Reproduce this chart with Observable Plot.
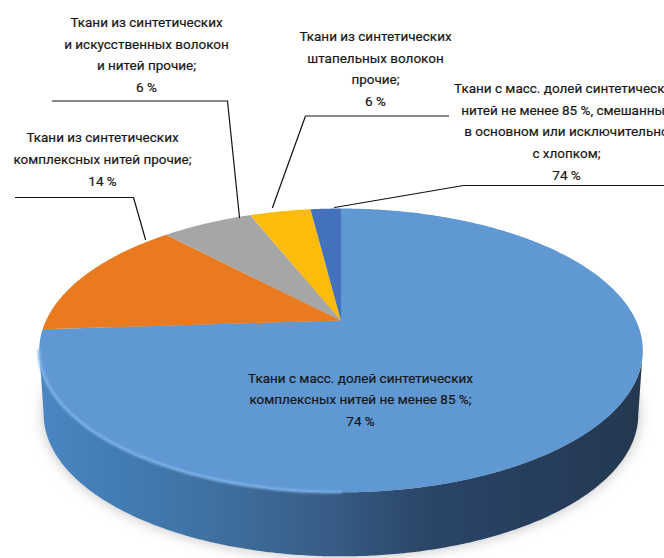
<!DOCTYPE html>
<html lang="ru">
<head>
<meta charset="utf-8">
<script src="https://cdn.jsdelivr.net/npm/d3@7"></script>
<script src="https://cdn.jsdelivr.net/npm/@observablehq/plot@0.6"></script>
<style>
  html, body { margin: 0; padding: 0; background: #fff; }
  svg { display: block; }
</style>
</head>
<body>
<div id="chart"></div>
<script>
// Slice sizes clockwise from twelve o'clock, in percent of the whole.
const sliceNames = ["Синт. комплексные ≥85 %", "Синт. комплексные прочие", "Синт. и иск. прочие", "Штапельные прочие", "Смешанные с хлопком"];
const sliceShares = [74, 14, 6, 4, 2];
const sliceColors = ["#6098d3", "#ea7a1f", "#a6a6a6", "#fdbb0c", "#4471bb"];

// Printed captions; the two smallest slices carry captions of 6 % and 74 %
// even though their sizes above are 4 % and 2 %.
const labelTexts = [
  "Ткани с масс. долей синтетических\nкомплексных нитей не менее 85 %;\n74 %",
  "Ткани из синтетических\nкомплексных нитей прочие;\n14 %",
  "Ткани из синтетических\nи искусственных волокон\nи нитей прочие;\n6 %",
  "Ткани из синтетических\nштапельных волокон\nпрочие;\n6 %",
  "Ткани с масс. долей синтетических\nнитей не менее 85 %, смешанных\nв основном или исключительно\nс хлопком;\n74 %"
];
const labelX = [360, 102, 146, 375, 566];
const labelY = [397, 156.5, 52, 66, 129];

// Leader polylines, one list per captioned outer slice.
const leaders = [
  [[15, 197], [133, 197], [145, 239]],
  [[52, 100.5], [227, 100.5], [239, 217]],
  [[272, 207], [305, 115.5], [448, 115.5]],
  [[334, 207], [463, 185], [664, 185]]
];

// Tilted disc: a circle seen in perspective, apex of the slices at (cx, cy).
const cx = 340.5, cy = 320, spanX = 295, spanY = 135.6, tilt = 0.211;
const depth = 64, baseShrink = 0.985;
const project = (deg) => {
  const a = deg * Math.PI / 180;
  const X = Math.sin(a), Y = -Math.cos(a), f = 1 / (1 - tilt * Y);
  return [cx + spanX * X * f, cy + spanY * Y * f];
};
const toBase = ([x, y]) => [cx + (x - cx) * baseShrink, y + depth];
const arc = (from, to) => d3.range(from, to, 0.5).concat(to).map(project);

// One closed outline per slice, built from the shares.
let running = 0;
const slicePoints = sliceShares.flatMap((share, i) => {
  const start = running * 3.6, end = (running + share) * 3.6;
  running += share;
  return [[cx, cy], ...arc(start, end), [cx, cy]].map(([x, y]) => ({x, y, name: sliceNames[i]}));
});

// Side wall runs along the near half of the rim, between the two widest points.
const widest = Math.acos(-tilt) * 180 / Math.PI;
const nearRim = arc(widest, 360 - widest);
const wallPoints = [...nearRim, ...nearRim.map(toBase).reverse()].map(([x, y]) => ({x, y}));
const footPoints = arc(0, 360).map(toBase).map(([x, y]) => ({x, y}));
const rimPoints = arc(180, 360 - widest).map(([x, y]) => ({x, y}));

const leaderPoints = leaders.flatMap((pts, id) => pts.map(([x, y]) => ({x, y, id})));
const labels = labelTexts.map((text, i) => ({text, x: labelX[i], y: labelY[i]}));

// Gradients for the wall shading and the light edge along the rim.
const gradients = () => {
  const defs = d3.create("svg:defs");
  const wall = defs.append("linearGradient").attr("id", "wall")
    .attr("gradientUnits", "userSpaceOnUse").attr("x1", 40).attr("x2", 640).attr("y1", 0).attr("y2", 0);
  [[0, "#4a86c2"], [0.12, "#437db6"], [0.3, "#3f6f9f"], [0.5, "#365a82"], [0.65, "#2a4567"], [0.85, "#263d5c"], [1, "#24384f"]]
    .forEach(([o, c]) => wall.append("stop").attr("offset", o).attr("stop-color", c));
  const rim = defs.append("linearGradient").attr("id", "rimGlow")
    .attr("gradientUnits", "userSpaceOnUse").attr("x1", 40).attr("x2", 460).attr("y1", 0).attr("y2", 0);
  [[0, "#7db4ea", 0.9], [0.6, "#7db4ea", 0.9], [1, "#7db4ea", 0]]
    .forEach(([o, c, a]) => rim.append("stop").attr("offset", o).attr("stop-color", c).attr("stop-opacity", a));
  return defs.node();
};

const chart = Plot.plot({
  width: 664,
  height: 558,
  margin: 0,
  x: {domain: [0, 664], range: [0, 664], axis: null},
  y: {domain: [0, 558], range: [0, 558], axis: null},
  color: {domain: sliceNames, range: sliceColors},
  marks: [
    gradients,
    // Soft cast shadow under the disc
    Plot.line(footPoints, {x: "x", y: "y", fill: "#8a8a8a", fillOpacity: 0.55, stroke: "none", imageFilter: "blur(7px)"}),
    Plot.line(wallPoints, {x: "x", y: "y", fill: "url(#wall)", stroke: "none"}),
    Plot.line(slicePoints, {x: "x", y: "y", z: "name", fill: "name", stroke: "none"}),
    Plot.line(rimPoints, {x: "x", y: "y", stroke: "url(#rimGlow)", strokeWidth: 3, imageFilter: "blur(1px)"}),
    Plot.line(leaderPoints, {x: "x", y: "y", z: "id", stroke: "#111", strokeWidth: 1.2}),
    Plot.text(labels, {
      x: "x", y: "y", text: "text",
      fontFamily: "'Liberation Sans Narrow', 'Roboto', sans-serif",
      fontSize: 13.5, lineHeight: 1.6, fill: "#161616", textAnchor: "middle",
      stroke: "#161616", strokeWidth: 0.2
    })
  ]
});
document.getElementById("chart").append(chart);
</script>
</body>
</html>
